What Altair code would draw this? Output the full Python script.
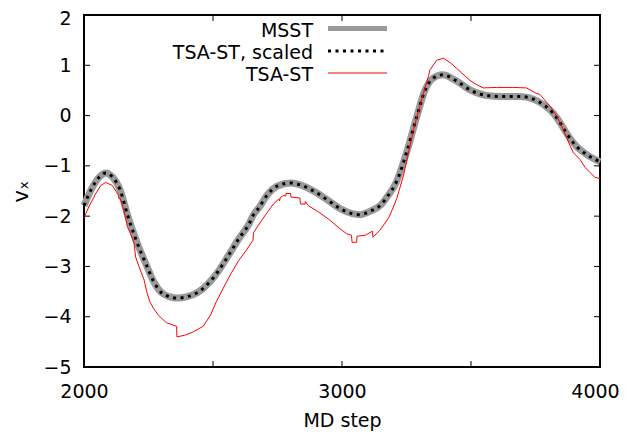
import altair as alt
import pandas as pd

# ---- data ----
msst_step = [2000, 2030, 2060, 2085, 2110, 2140, 2170, 2200, 2244, 2270, 2300, 2330, 2360,
             2400, 2440, 2480, 2520, 2560, 2600, 2640, 2656, 2680, 2710, 2750, 2800, 2850,
             2900, 2950, 3000, 3040, 3070, 3110, 3150, 3180, 3210, 3250, 3290, 3320, 3350,
             3390, 3440, 3500, 3560, 3620, 3690, 3740, 3780, 3820, 3845, 3870, 3910, 3950, 4000]
msst_val = [-1.79, -1.45, -1.22, -1.14, -1.22, -1.48, -2.00, -2.45, -3.00, -3.30, -3.52, -3.60, -3.63,
            -3.60, -3.52, -3.35, -3.10, -2.78, -2.45, -2.15, -1.98, -1.82, -1.58, -1.40, -1.34, -1.40,
            -1.53, -1.70, -1.87, -1.95, -1.97, -1.90, -1.78, -1.58, -1.33, -0.74, -0.02, 0.48, 0.73,
            0.81, 0.70, 0.50, 0.40, 0.38, 0.38, 0.33, 0.22, 0.04, -0.14, -0.35, -0.62, -0.78, -0.92]

tsa_step = [2000, 2020, 2039, 2042, 2065, 2084, 2110, 2133, 2136, 2140, 2155, 2168, 2181, 2194,
            2200, 2213, 2233, 2243, 2255, 2269, 2290, 2320, 2359, 2360, 2390, 2420, 2462, 2490,
            2514, 2540, 2570, 2600, 2630, 2655, 2657, 2689, 2734, 2755, 2758, 2760, 2772, 2782,
            2783, 2801, 2802, 2837, 2839, 2857, 2858, 2869, 2910, 2953, 2992, 3018, 3037, 3039,
            3057, 3058, 3090, 3118, 3120, 3147, 3179, 3184, 3199, 3212, 3238, 3277, 3316, 3335,
            3340, 3367, 3393, 3420, 3444, 3496, 3520, 3548, 3599, 3660, 3715, 3754, 3767, 3806,
            3832, 3858, 3884, 3897, 3922, 3942, 3961, 3981, 4000]
tsa_val = [-2.03, -1.80, -1.62, -1.58, -1.39, -1.33, -1.39, -1.58, -1.66, -1.64, -1.89, -2.21, -2.35, -2.54,
           -2.81, -3.00, -3.27, -3.50, -3.70, -3.83, -3.98, -4.12, -4.19, -4.40, -4.37, -4.31, -4.19, -3.97,
           -3.69, -3.43, -3.14, -2.88, -2.67, -2.48, -2.33, -2.08, -1.76, -1.66, -1.70, -1.64, -1.59, -1.60,
           -1.55, -1.55, -1.62, -1.64, -1.76, -1.76, -1.71, -1.79, -1.92, -2.08, -2.25, -2.35, -2.38, -2.52,
           -2.52, -2.40, -2.38, -2.30, -2.42, -2.28, -2.05, -2.00, -1.82, -1.65, -1.20, -0.28, 0.45, 0.78,
           0.90, 1.10, 1.14, 1.05, 0.94, 0.70, 0.62, 0.55, 0.56, 0.56, 0.55, 0.44, 0.42, 0.19,
           -0.01, -0.28, -0.60, -0.74, -0.87, -1.03, -1.13, -1.23, -1.25]

x_ticks = [2000, 2500, 3000, 3500, 4000]
x_labels = [2000, 3000, 4000]
y_ticks = [-5, -4, -3, -2, -1, 0, 1, 2]
legend_labels = ["MSST", "TSA-ST, scaled", "TSA-ST"]

FONT = "DejaVu Sans"
FS = 19
PAD_TOP = 7
W, H = 516, 352

msst_df = pd.DataFrame({"step": msst_step, "v": msst_val})
tsa_df = pd.DataFrame({"step": tsa_step, "v": tsa_val})
xt_df = pd.DataFrame({"step": x_ticks})
yt_df = pd.DataFrame({"v": y_ticks})

x_scale = alt.Scale(domain=[2000, 4000], nice=False, zero=False)
y_scale = alt.Scale(domain=[-5, 2], nice=False, zero=False)

x_axis = alt.Axis(values=x_labels, ticks=False, domain=False, grid=False, format="d",
                  labelFlush=False, labelOverlap=False,
                  labelOffset={"condition": {"test": "datum.value === 4000", "value": -5}, "value": 0},
                  labelFont=FONT, labelFontSize=FS, labelColor="black", labelPadding=15,
                  title="MD step", titleFont=FONT, titleFontSize=FS, titleFontWeight="normal",
                  titleColor="black", titlePadding=10)
y_axis = alt.Axis(values=y_ticks, ticks=False, domain=False, grid=False, format="d",
                  labelFlush=False, labelOverlap=False,
                  labelOffset={"condition": {"test": "datum.value === 2", "value": 3}, "value": 0},
                  labelFont=FONT, labelFontSize=FS, labelColor="black", labelPadding=13,
                  title="vₓ", titleFont=FONT, titleFontSize=FS + 2, titleFontWeight="normal",
                  titleColor="black", titlePadding=11)

X = alt.X("step:Q", scale=x_scale, axis=x_axis)
Y = alt.Y("v:Q", scale=y_scale, axis=y_axis)

msst = alt.Chart(msst_df).mark_line(color="#999999", strokeWidth=7, interpolate="monotone").encode(x=X, y=Y)
scaled = alt.Chart(msst_df).mark_line(color="black", strokeWidth=3, strokeDash=[3, 4.5],
                                      interpolate="monotone").encode(x=X, y=Y)
tsa = alt.Chart(tsa_df).mark_line(color="#ff0000", strokeWidth=1).encode(x=X, y=Y)

TL = 6
xtick_b = alt.Chart(xt_df).mark_rule(color="black", strokeWidth=1).encode(
    x=X, y=alt.value(H), y2=alt.value(H - TL))
xtick_t = alt.Chart(xt_df).mark_rule(color="black", strokeWidth=1).encode(
    x=X, y=alt.value(0), y2=alt.value(TL))
ytick_l = alt.Chart(yt_df).mark_rule(color="black", strokeWidth=1).encode(
    y=Y, x=alt.value(0), x2=alt.value(TL))
ytick_r = alt.Chart(yt_df).mark_rule(color="black", strokeWidth=1).encode(
    y=Y, x=alt.value(W), x2=alt.value(W - TL))

# legend (inside top-right)
leg_y = [13.5, 36, 58]
leg_layers = []
styles = [
    dict(color="#999999", strokeWidth=5),
    dict(color="black", strokeWidth=3, strokeDash=[3, 4.5]),
    dict(color="#ff0000", strokeWidth=1),
]
for lab, yy, st in zip(legend_labels, leg_y, styles):
    leg_layers.append(
        alt.Chart(pd.DataFrame({"t": [lab]})).mark_text(
            align="right", baseline="middle", font=FONT, fontSize=FS, color="black"
        ).encode(text="t:N", x=alt.value(229), y=alt.value(yy + 2))
    )
    leg_layers.append(
        alt.Chart(pd.DataFrame({"t": [lab]})).mark_rule(**st).encode(
            x=alt.value(244), x2=alt.value(303), y=alt.value(yy))
    )

chart = alt.layer(msst, scaled, tsa, xtick_b, xtick_t, ytick_l, ytick_r, *leg_layers).properties(
    width=W, height=H,
    background="white",
    autosize=alt.AutoSizeParams(type="none"),
    padding={"left": 76, "top": PAD_TOP, "right": 20, "bottom": 69},
).configure_view(stroke="black", strokeWidth=2)

chart.save("out.html", embed_options={"renderer": "svg", "actions": False})
